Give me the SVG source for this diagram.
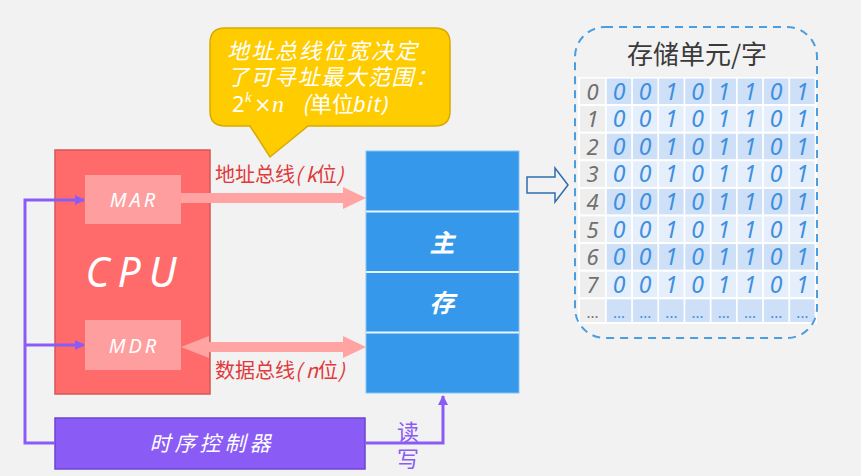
<svg xmlns="http://www.w3.org/2000/svg" xmlns:xlink="http://www.w3.org/1999/xlink" width="861" height="476" viewBox="0 0 861 476">
<style>
.cjk{font-family:"Noto Sans CJK SC","Noto Sans",sans-serif}
.lat{font-family:"Noto Sans","Noto Sans CJK SC",sans-serif}
.wi{fill:#ffffff;font-style:italic}
.bus{fill:#e0393b;font-size:20px}
.it{font-style:italic}
.bit{font-family:"Noto Sans",sans-serif;font-style:italic;font-size:23px;fill:#3d8fe0;text-anchor:middle}
.idx{font-family:"Noto Sans",sans-serif;font-style:italic;font-size:22px;fill:#707070;text-anchor:middle}
.dots{font-family:"Noto Sans",sans-serif;font-size:15px;fill:#3d8fe0;text-anchor:middle}
.pl{fill:none;stroke:#8a5cf5;stroke-width:3}
.pbus{stroke:#ffa3a3;stroke-width:10}
.dk{fill:#cde0f7}
.lt{fill:#e5eefb}
.ix{fill:#eeeeee}
</style>
<defs>
<marker id="pa" markerWidth="10" markerHeight="10" refX="9" refY="5" orient="auto" markerUnits="userSpaceOnUse">
<path d="M0,0 L10,5 L0,10 Z" fill="#8a5cf5"/>
</marker>
<g id="cells">
<rect x="606.7" y="0" width="24.5" height="25.5"/>
<rect x="632.9" y="0" width="24.5" height="25.5"/>
<rect x="659.1" y="0" width="24.5" height="25.5"/>
<rect x="685.3" y="0" width="24.5" height="25.5"/>
<rect x="711.5" y="0" width="24.5" height="25.5"/>
<rect x="737.7" y="0" width="24.5" height="25.5"/>
<rect x="763.9" y="0" width="24.5" height="25.5"/>
<rect x="790.1" y="0" width="24.5" height="25.5"/>
</g>
<g id="bits">
<text class="bit" x="619" y="0">0</text>
<text class="bit" x="645.2" y="0">0</text>
<text class="bit" x="671.4" y="0">1</text>
<text class="bit" x="697.6" y="0">0</text>
<text class="bit" x="723.8" y="0">1</text>
<text class="bit" x="750" y="0">1</text>
<text class="bit" x="776.2" y="0">0</text>
<text class="bit" x="802.4" y="0">1</text>
</g>
</defs>
<rect x="0" y="0" width="861" height="476" fill="#f2f2f2"/>

<g id="cpu">
<rect x="55" y="150" width="155" height="244" fill="#ff6b6b" stroke="#d65656" stroke-width="1.5"/>
<text class="lat wi" x="135" y="287" font-size="41" text-anchor="middle" letter-spacing="8">CPU</text>
</g>
<g id="mar">
<rect x="85" y="175" width="96" height="49" fill="#ff9e9e"/>
<text class="lat wi" x="134" y="207" font-size="20" text-anchor="middle" letter-spacing="3">MAR</text>
</g>
<g id="mdr">
<rect x="85" y="320" width="96" height="50" fill="#ff9e9e"/>
<text class="lat wi" x="134" y="353" font-size="20" text-anchor="middle" letter-spacing="3">MDR</text>
</g>

<g id="memory">
<rect x="366" y="151" width="153" height="242" fill="#3598ea" stroke="#86c3f5" stroke-width="1"/>
<line x1="366" y1="211.5" x2="519" y2="211.5" stroke="#e8f3fd" stroke-width="2"/>
<line x1="366" y1="272" x2="519" y2="272" stroke="#e8f3fd" stroke-width="2"/>
<line x1="366" y1="332.5" x2="519" y2="332.5" stroke="#e8f3fd" stroke-width="2"/>
<text class="cjk wi" x="442" y="252" font-size="25" font-weight="bold" text-anchor="middle">主</text>
<text class="cjk wi" x="442" y="312" font-size="25" font-weight="bold" text-anchor="middle">存</text>
</g>

<g id="controller">
<rect x="55" y="418" width="310" height="51" fill="#8a5cf5" stroke="#6b44cf" stroke-width="1.5"/>
<text class="cjk wi" x="212" y="451" font-size="21" text-anchor="middle" letter-spacing="4">时序控制器</text>
</g>

<g id="bubble">
<path d="M225,28 H435 Q450,28 450,43 V111 Q450,126 435,126 H308 L270,157 L250,126 H225 Q210,126 210,111 V43 Q210,28 225,28 Z" fill="#ffcc00" stroke="#d6aa00" stroke-width="1.5"/>
<text class="cjk wi" x="227" y="59" font-size="22" letter-spacing="2">地址总线位宽决定</text>
<text class="cjk wi" x="227" y="85" font-size="22" letter-spacing="1.5">了可寻址最大范围：</text>
<text class="cjk" y="112" font-size="22" fill="#ffffff"><tspan x="232" font-family="Noto Sans,sans-serif">2</tspan><tspan x="245" font-family="Liberation Serif,serif" font-style="italic" font-size="15" dy="-10">k</tspan><tspan x="254" font-family="DejaVu Sans,sans-serif" font-size="21" dy="10">×</tspan><tspan x="272" font-family="Liberation Serif,serif" font-style="italic" font-size="24">n</tspan><tspan x="302" font-style="italic">(</tspan><tspan x="310">单位</tspan><tspan x="353" font-family="Noto Sans,sans-serif" font-style="italic" letter-spacing="1">bit)</tspan></text>
</g>

<g id="table">
<rect x="578" y="77" width="239" height="247" fill="#ffffff"/>
<rect x="580" y="78.5" width="25" height="25.5" class="ix"/>
<rect x="580" y="106.1" width="25" height="25.5" class="ix"/>
<rect x="580" y="133.7" width="25" height="25.5" class="ix"/>
<rect x="580" y="161.3" width="25" height="25.5" class="ix"/>
<rect x="580" y="188.9" width="25" height="25.5" class="ix"/>
<rect x="580" y="216.5" width="25" height="25.5" class="ix"/>
<rect x="580" y="244.1" width="25" height="25.5" class="ix"/>
<rect x="580" y="271.7" width="25" height="25.5" class="ix"/>
<rect x="580" y="299.3" width="25" height="22.7" class="ix"/>
<use xlink:href="#cells" href="#cells" class="dk" y="78.5"/>
<use xlink:href="#cells" href="#cells" class="lt" y="106.1"/>
<use xlink:href="#cells" href="#cells" class="dk" y="133.7"/>
<use xlink:href="#cells" href="#cells" class="lt" y="161.3"/>
<use xlink:href="#cells" href="#cells" class="dk" y="188.9"/>
<use xlink:href="#cells" href="#cells" class="lt" y="216.5"/>
<use xlink:href="#cells" href="#cells" class="dk" y="244.1"/>
<use xlink:href="#cells" href="#cells" class="lt" y="271.7"/>
<g transform="translate(0,299.3) scale(1,0.89)"><use xlink:href="#cells" href="#cells" class="dk"/></g>
<text class="idx" x="592.5" y="99.5">0</text>
<text class="idx" x="592.5" y="127.1">1</text>
<text class="idx" x="592.5" y="154.7">2</text>
<text class="idx" x="592.5" y="182.3">3</text>
<text class="idx" x="592.5" y="209.9">4</text>
<text class="idx" x="592.5" y="237.5">5</text>
<text class="idx" x="592.5" y="265.1">6</text>
<text class="idx" x="592.5" y="292.7">7</text>
<use xlink:href="#bits" href="#bits" y="99.5"/>
<use xlink:href="#bits" href="#bits" y="127.1"/>
<use xlink:href="#bits" href="#bits" y="154.7"/>
<use xlink:href="#bits" href="#bits" y="182.3"/>
<use xlink:href="#bits" href="#bits" y="209.9"/>
<use xlink:href="#bits" href="#bits" y="237.5"/>
<use xlink:href="#bits" href="#bits" y="265.1"/>
<use xlink:href="#bits" href="#bits" y="292.7"/>
<text class="dots" x="592.5" y="318" style="fill:#707070">...</text>
<text class="dots" x="619" y="318">...</text>
<text class="dots" x="645.2" y="318">...</text>
<text class="dots" x="671.4" y="318">...</text>
<text class="dots" x="697.6" y="318">...</text>
<text class="dots" x="723.8" y="318">...</text>
<text class="dots" x="750" y="318">...</text>
<text class="dots" x="776.2" y="318">...</text>
<text class="dots" x="802.4" y="318">...</text>
<rect x="575" y="27" width="242" height="311" rx="30" fill="none" stroke="#4a9ee0" stroke-width="2" stroke-dasharray="8,6"/>
<text class="cjk" x="697" y="64" font-size="26" fill="#3a3a3a" text-anchor="middle">存储单元/字</text>
</g>

<g id="connectors">
<line class="pbus" x1="181" y1="198" x2="345" y2="198"/>
<polygon points="343,187 366,198 343,209" fill="#ffa3a3"/>
<line class="pbus" x1="206" y1="347" x2="345" y2="347"/>
<polygon points="343,336 366,347 343,358" fill="#ffa3a3"/>
<polygon points="209,336 181,347 209,358" fill="#ffa3a3"/>
<text class="cjk bus" x="215" y="182">地址总线<tspan class="it">(</tspan><tspan class="it" dx="4">k</tspan>位<tspan class="it">)</tspan></text>
<text class="cjk bus" x="215" y="378">数据总线<tspan class="it">(</tspan><tspan class="it" dx="4">n</tspan>位<tspan class="it">)</tspan></text>
<path class="pl" d="M55,443 H25 V200 H84" marker-end="url(#pa)"/>
<path class="pl" d="M25,345 H84" marker-end="url(#pa)"/>
<path class="pl" d="M365,443 H443 V396" marker-end="url(#pa)"/>
<text class="cjk" x="408" y="440" font-size="22" fill="#8a5cf5" text-anchor="middle">读</text>
<text class="cjk" x="408" y="467" font-size="22" fill="#8a5cf5" text-anchor="middle">写</text>
<path d="M527,177 H555 V168 L568,185 L555,202 V193 H527 Z" fill="#f2f2f2" stroke="#2f6db0" stroke-width="1.5"/>
</g>
</svg>
